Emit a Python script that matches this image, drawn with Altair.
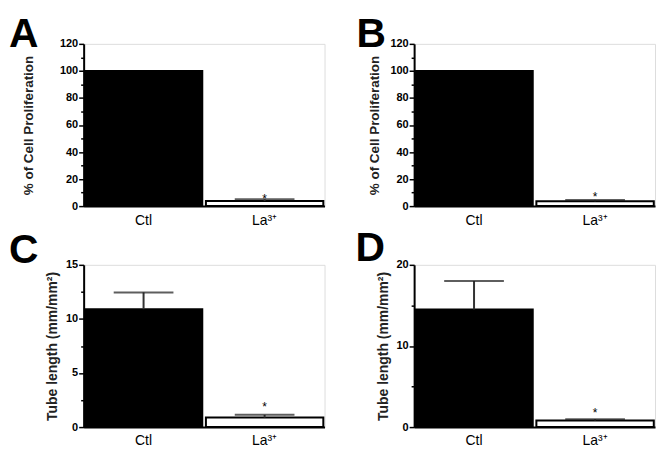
import altair as alt
import pandas as pd

categories = ["Ctl", "La³⁺"]
stars = ["", "*"]

a_means = [100.0, 3.8]
a_errs = [0.0, 1.2]
b_means = [100.0, 3.6]
b_errs = [0.0, 1.0]
c_means = [10.9, 0.88]
c_errs = [1.55, 0.25]
d_means = [14.5, 0.82]
d_errs = [3.5, 0.16]

a_ticks = [0, 10, 20, 30, 40, 50, 60, 70, 80, 90, 100, 110, 120]
b_ticks = [0, 10, 20, 30, 40, 50, 60, 70, 80, 90, 100, 110, 120]
c_ticks = [0, 2.5, 5, 7.5, 10, 12.5, 15]
d_ticks = [0, 5, 10, 15, 20]

FONT = "Liberation Sans"
W, H = 242, 163


def panel(letter, means, errs, ticks, major, ytitle, tsize, title_x, lx, ly, star_dy):
    df = pd.DataFrame({"cat": categories, "mean": means, "err": errs, "star": stars})
    df["top"] = df["mean"] + df["err"]

    xenc = alt.X(
        "cat:N",
        sort=categories,
        scale=alt.Scale(paddingInner=0.03, paddingOuter=0.01),
        axis=alt.Axis(
            title=None, ticks=False, labelAngle=0, labelFont=FONT,
            labelFontSize=14, labelColor="black", labelPadding=7,
            domainColor="black", domainWidth=2,
        ),
    )
    yscale = alt.Scale(domain=[ticks[0], ticks[-1]], nice=False, zero=True)
    yaxis = alt.Axis(
        title=ytitle,
        values=ticks,
        labelExpr=f"datum.value % {major} === 0 ? datum.label : ''",
        labelFont=FONT, labelFontSize=11, labelFontWeight="bold",
        labelColor="black", labelPadding=1, labelOverlap=False,
        tickColor="black", tickWidth=1.5,
        tickSize={"condition": {"test": f"datum.value % {major} !== 0", "value": 3}, "value": 5},
        domainColor="black", domainWidth=2, grid=False,
        titleFont=FONT, titleFontSize=tsize, titleFontWeight="bold",
        titleColor="#222222", titleX=title_x, titleY=H / 2,
        titleBaseline="middle", titleAlign="center",
    )

    base = alt.Chart(df)
    bars = base.mark_bar(stroke="black", strokeWidth=2).encode(
        x=xenc,
        y=alt.Y("mean:Q", scale=yscale, axis=yaxis),
        fill=alt.condition("datum.cat === 'Ctl'", alt.value("black"), alt.value("white")),
    )
    rule = base.mark_rule(color="#333333", strokeWidth=2).encode(
        x=xenc,
        y=alt.Y("mean:Q", scale=yscale, axis=yaxis),
        y2="top:Q",
    ).transform_filter("datum.err > 0")
    cap = base.mark_tick(color="#1a1a1a", thickness=2, size=60).encode(
        x=xenc,
        y=alt.Y("top:Q", scale=yscale, axis=yaxis),
    ).transform_filter("datum.err > 0")
    star = base.mark_text(font=FONT, fontSize=12, dy=star_dy, baseline="alphabetic", color="black").encode(
        x=xenc,
        y=alt.Y("top:Q", scale=yscale, axis=yaxis),
        text="star:N",
    )
    lab = alt.Chart(pd.DataFrame({"t": [letter]})).mark_text(
        font=FONT, fontSize=41, fontWeight="bold", align="left", baseline="alphabetic", color="black"
    ).encode(text="t:N", x=alt.value(lx), y=alt.value(ly))

    return alt.layer(bars, rule, cap, star, lab).properties(width=W, height=H)


pA = panel("A", a_means, a_errs, a_ticks, 20, "% of Cell Proliferation", 13.5, -55, -75, 3, 4)
pB = panel("B", b_means, b_errs, b_ticks, 20, "% of Cell Proliferation", 13.5, -40, -58, 3, 1)
pC = panel("C", c_means, c_errs, c_ticks, 5, "Tube length (mm/mm²)", 14, -31, -75, -2, -3.7)
pD = panel("D", d_means, d_errs, d_ticks, 10, "Tube length (mm/mm²)", 14, -31, -59, -4, -2.3)

chart = alt.concat(
    pA, pB, pC, pD,
    columns=2,
    spacing={"row": 59, "column": 90},
    bounds="flush",
    padding={"left": 0, "top": 4, "right": 0, "bottom": 0},
).configure_view(stroke=None).configure(background="white")

chart.save("out.html", embed_options={"renderer": "svg", "actions": False})
